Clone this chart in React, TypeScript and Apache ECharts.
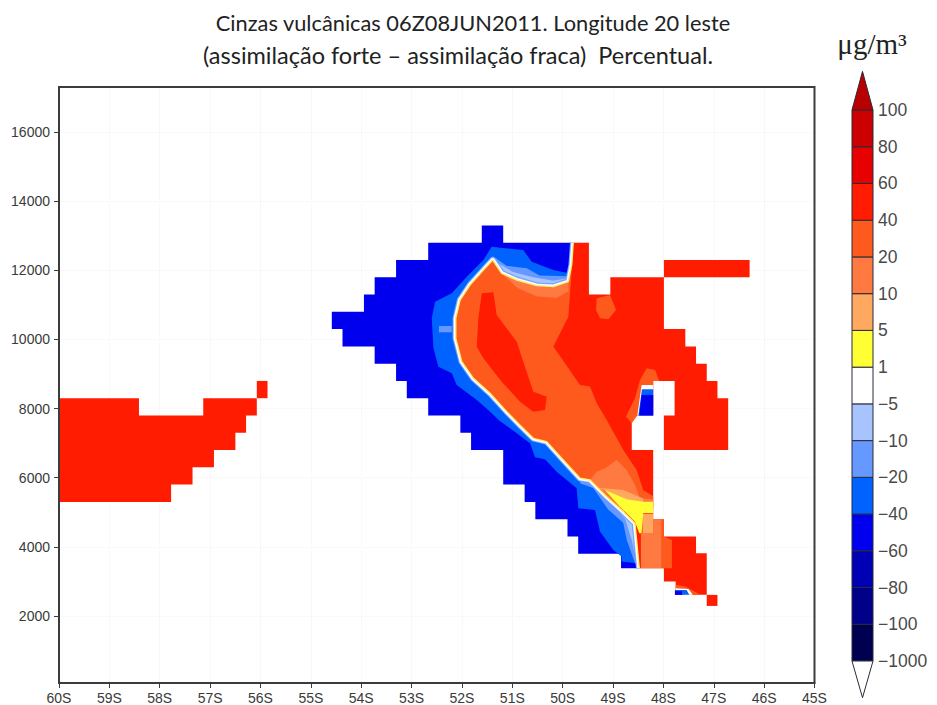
import React, { useEffect, useRef } from "react";
import * as echarts from "echarts";

type Pt = [number, number];

// Model-grid columns: column c lies at longitude LON_ORIGIN + c * LON_STEP (degrees, negative = south)
const LON_ORIGIN = -55.86;
const LON_STEP = 0.2127;
const lonOf = (c: number) => LON_ORIGIN + c * LON_STEP;

const lonTicks = [-60, -59, -58, -57, -56, -55, -54, -53, -52, -51, -50, -49, -48, -47, -46, -45];
const heightTicks = [2000, 4000, 6000, 8000, 10000, 12000, 14000, 16000];
const levelLabels = ["\u22121000", "\u2212100", "\u221280", "\u221260", "\u221240", "\u221220", "\u221210", "\u22125", "1", "5", "10", "20", "40", "60", "80", "100"];
const levelColors = ["#000050", "#000088", "#0000b4", "#0000ee", "#0062ff", "#6699ff", "#a8c4ff", "#ffffff", "#ffff33", "#ffa860", "#ff7a40", "#ff5a1e", "#ff1c00", "#e60000", "#cc0000"];
const topArrowColor = "#b80000";
const bottomArrowColor = "#ffffff";

const C = {
  red: "#ff1c00", o2040: "#ff5a1e", o1020: "#ff7a40", o510: "#ffa860", yel: "#ffff33",
  white: "#ffffff", b510: "#a8c4ff", b1020: "#6699ff", b2040: "#0062ff", b4060: "#0000ee",
};

// Zero contour: north arm (east to west), then the long front running south-east
const arch: Pt[] = [[28.54, 12800], [28.39, 12155], [28.08, 11672], [26.68, 11528], [25.12, 11557], [23.26, 11721], [21.86, 11914], [21.02, 12299]];
const front: Pt[] = [[20.3, 12058], [18.9, 11576], [17.97, 11142], [17.57, 10612], [17.57, 10033], [18.13, 9358], [19.22, 8876], [20.77, 8442], [22.33, 7912], [23.57, 7520], [24.81, 7140], [26.06, 7044], [27.61, 6513], [29.17, 5983], [30.1, 5935], [31.65, 5452], [33.2, 5019], [34.3, 4681], [34.7, 3380]];
const zeroContour: Pt[] = [...arch, ...front];
const zeroReversed: Pt[] = [...zeroContour].reverse();

// -40 contour
const minus40: Pt[] = [[28.2, 12000], [28.08, 11913], [26.68, 12010], [24.66, 12251], [23.88, 12588], [22.17, 12637], [20.93, 12685], [20.15, 12299], [18.6, 11817], [17.2, 11335], [15.64, 11094], [15.33, 10612], [15.49, 9744], [15.95, 9213], [17.2, 9020], [17.66, 8683], [19.53, 8249], [20.6, 7960], [21.6, 7660], [22.95, 7362], [24.5, 6995], [24.97, 6590], [25.9, 6533], [26.99, 6176], [28.86, 5694], [29.01, 5115], [30.57, 5067], [31.03, 4440], [32.28, 3910], [33.05, 3717], [33.05, 3572], [34.45, 3524], [34.6, 3380]];

const blueMask: Pt[] = [[15, 12800], [20, 12800], [20, 13300], [22, 13300], [22, 12800], ...zeroContour, [33, 3380], [33, 3800], [29, 3800], [29, 4300], [28, 4300], [28, 4800], [25, 4800], [25, 5300], [24, 5300], [24, 5800], [22, 5800], [22, 6800], [19, 6800], [19, 7300], [18, 7300], [18, 7800], [15, 7800], [15, 8300], [13, 8300], [13, 8800], [12, 8800], [12, 9300], [10, 9300], [10, 9800], [7, 9800], [7, 10300], [6, 10300], [6, 10800], [9, 10800], [9, 11300], [10, 11300], [10, 11800], [12, 11800], [12, 12300], [15, 12300]];

const redMask: Pt[] = [[28.54, 12800], [30, 12800], [30, 11300], [32, 11300], [32, 11800], [37, 11800], [37, 10300], [39, 10300], [39, 9800], [40, 9800], [40, 9300], [41, 9300], [41, 8800], [42, 8800], [42, 8300], [43, 8300], [43, 6800], [37, 6800], [37, 7800], [38, 7800], [38, 8800], [36, 8800], [36, 7800], [34, 7800], [34, 6800], [36, 6800], [36, 4800], [37, 4800], [37, 3380], ...zeroReversed];
const redStrip: Pt[] = [[37, 12300], [45, 12300], [45, 11800], [37, 11800]];
const redWest: Pt[] = [[-19.75, 8300], [-12, 8300], [-12, 7800], [-6, 7800], [-6, 8300], [-1, 8300], [-1, 7800], [-2, 7800], [-2, 7300], [-3, 7300], [-3, 6800], [-5, 6800], [-5, 6300], [-7, 6300], [-7, 5800], [-9, 5800], [-9, 5300], [-19.75, 5300]];
const redWestCell: Pt[] = [[-1, 8800], [0, 8800], [0, 8300], [-1, 8300]];
const redSouth: Pt[] = [[37, 4300], [40, 4300], [40, 3815], [41, 3815], [41, 2610], [38.1, 2610], [38.1, 2995], [37, 2995]];
const redSouthCell: Pt[] = [[41, 2610], [42, 2610], [42, 2290], [41, 2290]];

// Positive bands
const orangeEast: Pt[] = [[28.54, 12800], [28.4, 12010], [28.08, 10660], [26.68, 9793], [29.17, 8684], [30.1, 8636], [30.73, 8154], [31.66, 7670], [33.21, 6803], [34.45, 6224], [35.07, 5646], [36, 5460], [36, 5100]];
const orangeMain: Pt[] = [...orangeEast, ...[...front].reverse().slice(3), ...[...arch].reverse()];
const orangeInnerRed: Pt[] = [[20, 11335], [21.08, 11364], [21.39, 10708], [23.26, 9937], [24.19, 9069], [24.81, 8490], [26.06, 8346], [25.9, 7960], [24.81, 7912], [23.57, 8201], [21.86, 8780], [20.15, 9455], [19.53, 9792], [19.68, 10612]];
const orangeSpot: Pt[] = [[30.73, 11191], [31.97, 11287], [32.53, 10853], [31.81, 10583], [31.04, 10612], [30.66, 10853]];
const orangeHole: Pt[] = [[34.3, 8299], [34.77, 8829], [35.39, 9166], [36.17, 9118], [36.57, 8800], [36, 8800], [36, 7800], [34.52, 7800], [34, 7576], [33.46, 7769]];
const holeWhite: Pt[] = [[34.92, 8684], [36, 8684], [36, 7800], [34.52, 7800]];
const holeBlue: Pt[] = [[34.95, 8560], [36, 8560], [36, 7800], [34.62, 7800]];
const holeDark: Pt[] = [[34.92, 8395], [36, 8395], [36, 7800], [34.7, 7800]];
const archBand: Pt[] = [[21.86, 11914], [23.3, 11500], [25.1, 11250], [27, 11200], [28.1, 11400], [28.08, 11672], [26.68, 11528], [25.12, 11557], [23.26, 11721]];
const band1020: Pt[] = [[30.1, 5935], [30.72, 6176], [31.5, 6272], [32.59, 6513], [33.52, 6224], [34.3, 5790], [34.76, 5404], [36, 5375], [36, 5100], [33.2, 5019], [31.65, 5452]];
const band510: Pt[] = [[30.6, 5720], [33.2, 5645], [35.07, 5400], [35.07, 5270], [33.5, 5340], [32.3, 5500], [31.3, 5665]];
const bandYellow: Pt[] = [[31.5, 5645], [33.52, 5375], [35.07, 5308], [36, 5308], [36, 4970], [35.07, 4970], [34.92, 4392], [34.7, 4392], [34.3, 4729], [32.9, 5163]];
const south510: Pt[] = [[35, 4950], [36, 4950], [36, 4390], [35, 4390]];
const south1020: Pt[] = [[34.85, 4390], [36, 4390], [36, 4800], [36.8, 4800], [36.8, 3380], [34.85, 3380]];
const south2040: Pt[] = [[36.8, 4780], [37, 4780], [37, 4300], [37.75, 4200], [37.75, 3380], [36.8, 3380]];
const tipOrange: Pt[] = [[38.1, 2900], [39, 2850], [39.9, 2700], [40.4, 2610], [38.1, 2610]];
const tipWhite: Pt[] = [[38.1, 2800], [39.3, 2780], [39.7, 2610], [38.1, 2610]];
const tipBlue: Pt[] = [[38.03, 2752], [39.12, 2752], [39.37, 2610], [38.03, 2610]];
const tipDark: Pt[] = [[38.03, 2720], [38.7, 2720], [38.7, 2610], [38.03, 2610]];

// Negative bands
const band2040: Pt[] = [...minus40, ...zeroReversed];
const archMinus20: Pt[] = [[21.02, 12299], [21.2, 12380], [22.3, 12130], [24.2, 12060], [25.4, 11850], [28.1, 11830], [28.25, 12000], [28.08, 11672], [26.68, 11528], [25.12, 11557], [23.26, 11721], [21.86, 11914]];
const archMinus10: Pt[] = [[21.02, 12299], [21.4, 12230], [22.9, 11950], [24.8, 11800], [26.68, 11700], [28.08, 11780], [28.08, 11672], [26.68, 11528], [25.12, 11557], [23.26, 11721], [21.86, 11914]];
const southMinus20: Pt[] = [[29.17, 5983], [29.2, 5830], [30.4, 5700], [31.8, 5080], [33.2, 4700], [33.53, 4200], [34.3, 3530], [34.7, 3380], [34.3, 4681], [33.2, 5019], [31.65, 5452], [30.1, 5935]];
const southMinus10: Pt[] = [[30.1, 5935], [30.4, 5800], [32, 5300], [33.4, 4800], [34, 4200], [34.5, 3530], [34.7, 3380], [34.3, 4681], [33.2, 5019], [31.65, 5452]];
const patchMinus20: Pt[] = [[16, 10390], [17.2, 10390], [17.2, 10207], [16, 10207]];

type Shape = { color: string; points: Pt[]; line?: number };
const shapes: Shape[] = [
  { color: C.red, points: redWest },
  { color: C.red, points: redWestCell },
  { color: C.b4060, points: blueMask },
  { color: C.b2040, points: band2040 },
  { color: C.b1020, points: patchMinus20 },
  { color: C.b1020, points: southMinus20 },
  { color: C.b510, points: southMinus10 },
  { color: C.b1020, points: archMinus20 },
  { color: C.b510, points: archMinus10 },
  { color: C.b1020, points: zeroContour, line: 6.5 },
  { color: C.b510, points: zeroContour, line: 5 },
  { color: C.white, points: zeroContour, line: 3.8 },
  { color: C.red, points: redMask },
  { color: C.red, points: redStrip },
  { color: C.o2040, points: orangeMain },
  { color: C.o1020, points: archBand },
  { color: C.red, points: orangeInnerRed },
  { color: C.o2040, points: orangeSpot },
  { color: C.o2040, points: orangeHole },
  { color: C.white, points: holeWhite },
  { color: C.b2040, points: holeBlue },
  { color: C.b4060, points: holeDark },
  { color: C.o1020, points: band1020 },
  { color: C.o510, points: band510 },
  { color: C.red, points: redSouth },
  { color: C.red, points: redSouthCell },
  { color: C.o1020, points: south1020 },
  { color: C.o2040, points: south2040 },
  { color: C.o510, points: south510 },
  { color: C.yel, points: bandYellow },
  { color: C.o2040, points: tipOrange },
  { color: C.white, points: tipWhite },
  { color: C.b2040, points: tipBlue },
  { color: C.b4060, points: tipDark },
  { color: "#ffef70", points: zeroContour, line: 1.4 },
];

const FONT = "'Liberation Sans', Arial, sans-serif";
const TEXT = "#3a3a3a";

export default function App() {
  const ref = useRef<HTMLDivElement>(null);
  useEffect(() => {
    const chart = echarts.init(ref.current!, undefined, { renderer: "svg" });
    chart.setOption({
      animation: false,
      backgroundColor: "#ffffff",
      title: [
        { text: "Cinzas vulc\u00e2nicas 06Z08JUN2011. Longitude 20 leste", left: 471, top: 6, textAlign: "center", textStyle: { fontFamily: "Lato", fontSize: 21.8, fontWeight: "normal", color: "#222" } },
        { text: "(assimila\u00e7\u00e3o forte \u2013 assimila\u00e7\u00e3o fraca)  Percentual.", left: 457, top: 38, textAlign: "center", textStyle: { fontFamily: "Lato", fontSize: 23.5, fontWeight: "normal", color: "#222" } },
        { text: "\u03bcg/m\u00b3", left: 869, top: 24, textAlign: "center", textStyle: { fontFamily: "Liberation Serif", fontSize: 29, fontWeight: "normal", color: "#222" } },
      ].map((t, i) => ({ ...t, left: [468, 453, 867][i] })),
      grid: [
        { left: 59, top: 87, width: 755.5, height: 596, show: true, borderColor: "#3c3c3c", borderWidth: 2, backgroundColor: "transparent", z: 5 },
        { left: 852, top: 110, width: 21, height: 551, show: false },
      ],
      xAxis: [
        {
          type: "value", gridIndex: 0, min: -60, max: -45, interval: 1,
          axisLine: { show: true, lineStyle: { color: "#3c3c3c", width: 2 } },
          axisTick: { show: true, length: 5, lineStyle: { color: "#3c3c3c" } },
          axisLabel: { margin: 8, fontFamily: FONT, fontSize: 14, color: TEXT, formatter: (v: number) => `${Math.abs(v)}S`, customValues: lonTicks, showMinLabel: true, showMaxLabel: true },
          splitLine: { show: true, lineStyle: { color: "#f3f3f3", type: "dotted" } },
        },
        { type: "value", gridIndex: 1, min: 0, max: 1, show: false },
      ],
      yAxis: [
        {
          type: "value", gridIndex: 0, min: 60, max: 17305,
          axisLine: { show: true, lineStyle: { color: "#3c3c3c", width: 2 } },
          axisTick: { show: true, length: 5, customValues: heightTicks, lineStyle: { color: "#3c3c3c" } },
          axisLabel: { margin: 9, fontFamily: FONT, fontSize: 14, color: TEXT, customValues: heightTicks, formatter: (v: number) => String(v) },
          splitLine: { show: false },
        },
        {
          type: "value", gridIndex: 1, position: "right", min: 0, max: 15, interval: 1,
          axisLine: { show: false },
          axisTick: { show: false },
          splitLine: { show: false },
          axisLabel: { margin: 5, fontFamily: FONT, fontSize: 17.5, color: "#4a4a4a", formatter: (v: number) => levelLabels[v] ?? "" },
        },
      ],
      series: [
        {
          type: "line", xAxisIndex: 0, yAxisIndex: 0, data: [], silent: true, z: 1,
          markLine: {
            z: 1, silent: true, symbol: "none", label: { show: false },
            lineStyle: { color: "#f3f3f3", type: "dotted", width: 1 },
            data: heightTicks.map((h) => ({ yAxis: h })),
          },
        },
        {
          type: "custom", xAxisIndex: 0, yAxisIndex: 0, silent: true, z: 3, clip: true,
          data: shapes.map((s, i) => [lonOf(s.points[0][0]), s.points[0][1], i]),
          encode: { x: 0, y: 1 },
          renderItem: (params: any, api: any) => {
            const s = shapes[params.dataIndex];
            const points = s.points.map(([c, h]) => api.coord([lonOf(c), h]));
            if (s.line) {
              return { type: "polyline", shape: { points }, style: { stroke: s.color, lineWidth: s.line, fill: null, lineJoin: "round" } };
            }
            return { type: "polygon", shape: { points }, style: { fill: s.color } };
          },
        },
        {
          type: "custom", xAxisIndex: 1, yAxisIndex: 1, silent: true, clip: false,
          data: levelColors.map((_, i) => [0, i]),
          encode: { x: 0, y: 1 },
          renderItem: (params: any, api: any) => {
            const i = params.dataIndex;
            const a = api.coord([0, i]);
            const b = api.coord([1, i + 1]);
            const border = { stroke: "#2a2a3a", lineWidth: 1 };
            const children: any[] = [
              { type: "rect", shape: { x: a[0], y: b[1], width: b[0] - a[0], height: a[1] - b[1] }, style: { fill: levelColors[i], ...border } },
            ];
            if (i === levelColors.length - 1) {
              const apex = api.coord([0.5, 16.05]);
              children.push({ type: "polygon", shape: { points: [[a[0], b[1]], [b[0], b[1]], apex] }, style: { fill: topArrowColor, ...border } });
            }
            if (i === 0) {
              const apex = api.coord([0.5, -1]);
              children.push({ type: "polygon", shape: { points: [[a[0], a[1]], [b[0], a[1]], apex] }, style: { fill: bottomArrowColor, ...border } });
            }
            return { type: "group", children };
          },
        },
      ],
    });
    return () => chart.dispose();
  }, []);
  return <div ref={ref} style={{ position: "absolute", left: 0, top: 0, width: 937, height: 705 }} />;
}
